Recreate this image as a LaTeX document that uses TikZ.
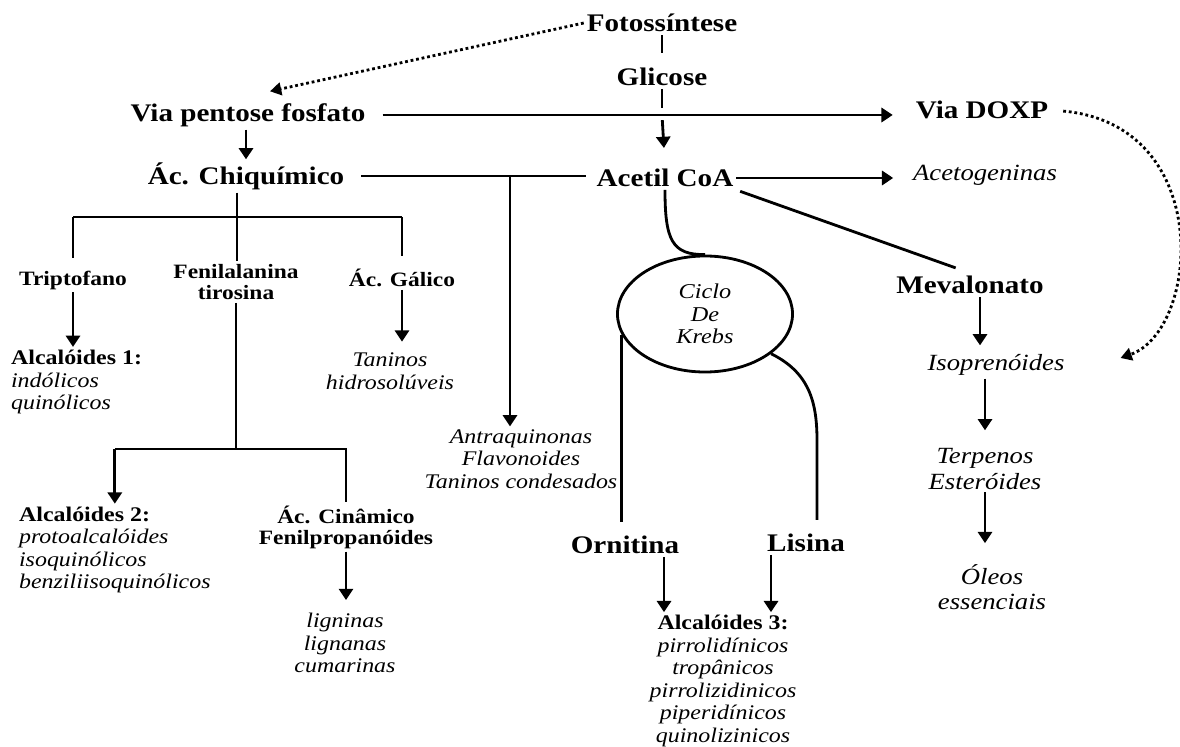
\documentclass[tikz,border=0pt]{standalone}
\usepackage{fontspec}
\setmainfont{Liberation Serif}[FakeStretch=1.15]
\usetikzlibrary{arrows.meta,shapes.geometric}

\begin{document}
\begin{tikzpicture}[
	x=0.025cm, y=-0.025cm,
	every node/.style={inner sep=2pt},
	big/.style={font=\fontsize{18}{21}\selectfont\bfseries},
	sml/.style={font=\fontsize{14.5}{15}\selectfont\bfseries, align=center},
	itb/.style={font=\fontsize{16.5}{18}\selectfont\itshape, align=center},
	its/.style={font=\fontsize{14.8}{16}\selectfont\itshape},
	ln/.style={line width=2pt},
	arr/.style={ln, -{Triangle[width=10pt,length=8pt]}},
	dotarr/.style={ln, dash pattern=on 2pt off 2pt, -{Triangle[width=9pt,length=8pt]}},
	krebs/.style={draw, ellipse, line width=2pt, minimum width=4.375cm, minimum height=2.9cm, inner sep=0pt, font=\fontsize{15}{16}\selectfont\itshape, align=center}
	]
	\useasboundingbox (0,0) rectangle (1180,747);
	\node[big] (fot) at (662,23) {Fotossíntese};
	\node[big] (gli) at (662,77) {Glicose};
	\node[big] (vpf) at (248,115) {Via pentose fosfato};
	\node[big] (dox) at (982,110) {Via DOXP};
	\node[big] (chq) at (246,176) {Ác. Chiquímico};
	\node[big] (acc) at (665,178) {Acetil CoA};
	\node[itb] (acg) at (985,175) {Acetogeninas};
	\node[sml] (tri) at (73,280) {Triptofano};
	\node[sml] (fen) at (236,282) {Fenilalanina\\tirosina};
	\node[sml] (gal) at (402,278) {Ác. Gálico};
	\node[big] (mev) at (970,285) {Mevalonato};
	\node[krebs] (krb) at (705,314) {Ciclo\\De\\Krebs};
	\node[its, align=left, anchor=west] (al1) at (8,382) {{\upshape\bfseries Alcalóides 1:}\\indólicos\\quinólicos};
	\node[its, align=center] (tan) at (390,371) {Taninos\\hidrosolúveis};
	\node[itb] (iso) at (996,365) {Isoprenóides};
	\node[its, align=center] (ant) at (521,459) {Antraquinonas\\Flavonoides\\Taninos condesados};
	\node[itb] (ter) at (985,469) {Terpenos\\Esteróides};
	\node[sml] (cin) at (346,527) {Ác. Cinâmico\\Fenilpropanóides};
	\node[its, align=left, anchor=west] (al2) at (16,550) {{\upshape\bfseries Alcalóides 2:}\\protoalcalóides\\isoquinólicos\\benziliisoquinólicos};
	\node[big] (orn) at (625,545) {Ornitina};
	\node[big] (lis) at (806,543) {Lisina};
	\node[itb] (ole) at (992,587) {Óleos\\essenciais};
	\node[its, align=center] (lig) at (345,643) {ligninas\\lignanas\\cumarinas};
	\node[its, align=center] (al3) at (723,681) {{\upshape\bfseries Alcalóides 3:}\\pirrolidínicos\\tropânicos\\pirrolizidinicos\\piperidínicos\\quinolizinicos};
	\coordinate (gx) at (gli.south |- vpf.east);
	\coordinate (bj) at (510,176);
	\coordinate (cj) at (237,217);
	\coordinate (ma) at ([shift={(10,0)}]mev.south);
	\coordinate (la) at ([shift={(11,0)}]lis.north);
	\coordinate (oa) at ([shift={(39,0)}]orn.south);
	\coordinate (lb) at ([shift={(-35,0)}]lis.south);
	\draw[dotarr] (fot.west) -- ([shift={(22,-9)}]vpf.north);
	\draw[ln, shorten >=0.3cm] (fot.south) -- (gli.north);
	\draw[ln, shorten >=0.18cm] (gli.south) -- (gx);
	\draw[arr, shorten <=0.13cm, shorten >=0.45cm] (gx) -- (acc.north);
	\draw[arr, shorten <=0.35cm, shorten >=0.5cm] (vpf.east) -- (vpf.east -| dox.west);
	\draw[arr] (chq.north |- vpf.south) -- (chq.north);
	\draw[ln, shorten <=0.35cm, shorten >=0.2cm] (chq.east) -- (chq.east -| acc.west);
	\draw[arr] (bj) -- (bj |- ant.north);
	\draw[arr, shorten >=0.42cm] (acc.east) -- (acc.east -| acg.west);
	\draw[ln, shorten <=0.1cm, shorten >=0.38cm] (acc.south east) -- (mev.north);
	\draw[arr, shorten >=0.15cm] (ma) -- (ma |- iso.north);
	\draw[arr, shorten >=0.38cm] (ter.north |- iso.south) -- (ter.north);
	\draw[arr, shorten >=0.45cm] (ter.south) -- (ter.south |- ole.north);
	\draw[dotarr, shorten <=0.3cm] (dox.east) .. controls (1215,125) and (1200,330) .. ([shift={(53,-7)}]iso.east);
	\draw[ln] (cj |- chq.south) -- (cj);
	\draw[ln] (tri.north |- cj) -- (gal.north |- cj);
	\draw[ln, shorten >=0.25cm] (tri.north |- cj) -- (tri.north);
	\draw[ln] (cj) -- (cj |- fen.north);
	\draw[ln, shorten >=0.25cm] (gal.north |- cj) -- (gal.north);
	\draw[arr] (tri.south) -- (tri.south |- al1.north);
	\draw[arr, shorten >=0.2cm] (gal.south) -- (gal.south |- tan.north);
	\draw[ln] (fen.south) -- (fen.south |- 0,449);
	\draw[arr] (al2.north |- 0,449) -- (al2.north);
	\draw[ln] (al2.north |- 0,449) -- (cin.north |- 0,449) -- (cin.north);
	\draw[arr, shorten >=0.25cm] (cin.south) -- (cin.south |- lig.north);
	\draw[ln] (acc.south) .. controls (665,240) and (672,255) .. (krb.north);
	\draw[ln, shorten >=0.28cm] (krb.194) -- (krb.194 |- orn.north);
	\draw[ln, shorten >=0.28cm] (krb.-31) .. controls (808,372) and (817,400) .. (la |- 0,440) -- (la);
	\draw[arr] (oa) -- (oa |- al3.north);
	\draw[arr] (lb) -- (lb |- al3.north);
\end{tikzpicture}
\end{document}
